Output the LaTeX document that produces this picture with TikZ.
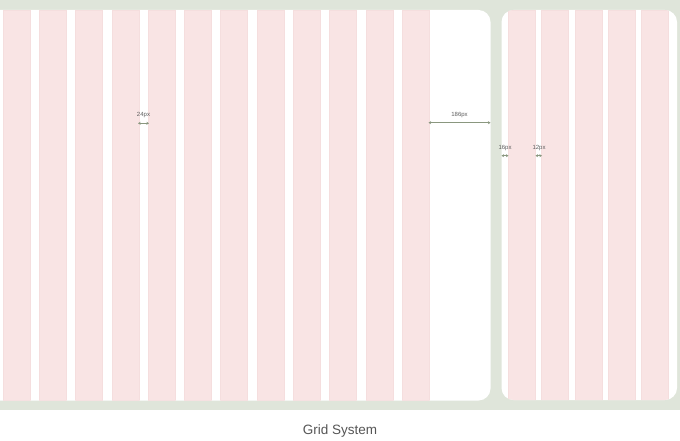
\documentclass[tikz,border=0pt]{standalone}
\usepackage{fontspec}
\setmainfont{Liberation Sans}
\usetikzlibrary{arrows.meta}
\definecolor{bggreen}{HTML}{DFE5DA}
\definecolor{colpink}{HTML}{F9E4E4}
\definecolor{coledge}{HTML}{F5DEDE}
\definecolor{measure}{HTML}{8A977F}
\definecolor{labelgrey}{HTML}{5E5E5E}
\definecolor{titlegrey}{HTML}{555555}
\tikzset{
  panel/.style={fill=white, rounded corners=12pt},
  gridcol/.style={fill=colpink, draw=coledge, line width=0.25pt},
  measurearrow/.style={draw=measure, line width=0.5pt, {Stealth[length=2.6pt,width=3pt]}-{Stealth[length=2.6pt,width=3pt]}},
  measurelabel/.style={text=labelgrey, font=\fontsize{6}{7}\selectfont, inner sep=0pt},
  titlelabel/.style={text=titlegrey, font=\fontsize{13.5}{16}\selectfont, inner sep=0pt}
}
\begin{document}
\begin{tikzpicture}[x=1pt,y=-1pt]
\useasboundingbox (0,0) rectangle (680,441);
\fill[bggreen] (0,0) rectangle (680,410);
% left panel
\fill[panel] (-20,10) rectangle (490.5,400.5);
\begin{scope}
  \clip[rounded corners=12pt] (-20,10) rectangle (490.5,400.5);
  \foreach \i in {0,...,11} {
    \path[gridcol] ({3+36.27*\i},10) rectangle ++(27,390.5);
  }
\end{scope}
% right panel
\fill[panel] (501.5,10) rectangle (677,400);
\begin{scope}
  \clip[rounded corners=12pt] (501.5,10) rectangle (677,400);
  \foreach \i in {0,...,4} {
    \path[gridcol] ({508.5+33.1*\i},10) rectangle ++(27,390);
  }
\end{scope}
% measurements
\coordinate (a1) at (138,123.3);
\coordinate (a2) at (149,123.3);
\coordinate (b1) at (428.5,122.7);
\coordinate (b2) at (490.5,122.7);
\coordinate (c1) at (501.5,155.7);
\coordinate (c2) at (508.5,155.7);
\coordinate (d1) at (535.5,155.7);
\coordinate (d2) at (542,155.7);
\draw[measurearrow] (a1) -- (a2);
\draw[measurearrow] (b1) -- (b2);
\draw[measurearrow] (c1) -- (c2);
\draw[measurearrow] (d1) -- (d2);
\node[measurelabel] (la) at (143.5,115.5) {24px};
\node[measurelabel] (lb) at (459.5,115.5) {186px};
\node[measurelabel] (lc) at (505,148) {16px};
\node[measurelabel] (ld) at (539,148) {12px};
\node[titlelabel] (title) at (340,431.5) {Grid System};
\end{tikzpicture}
\end{document}
